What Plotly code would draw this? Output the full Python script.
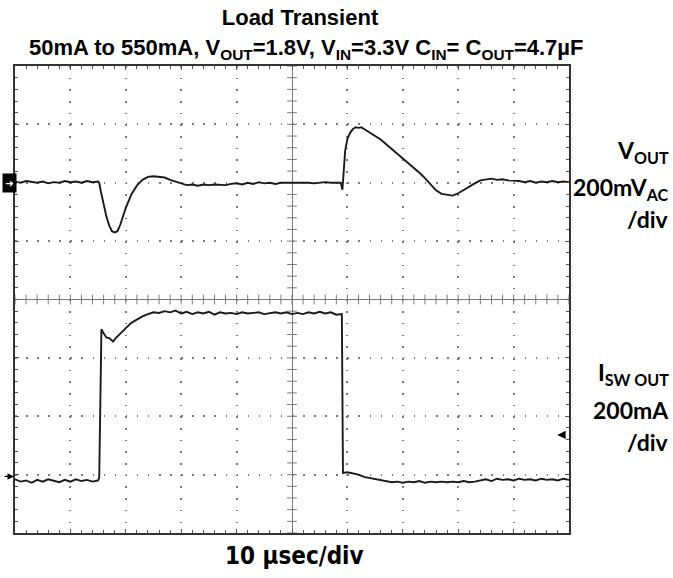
import numpy as np
import plotly.graph_objects as go

# ---------------- data (time in µs relative to screen centre, amplitude in divisions) ----------------
vout_t = [-50, -49, -48, -47, -46, -45, -44, -43, -42, -41, -40, -39, -38, -37, -36, -35,
          -34.8, -34.5, -34, -33.5, -33, -32.5, -32, -31.5, -31, -30.5, -30,
          -29, -28, -27, -26, -25, -24, -23, -22, -21, -20, -19, -18, -17, -16, -15, -14, -13, -12, -11,
          -10, -9, -8, -7, -6, -5, -4, -3, -2, -1, 0, 1, 2, 3, 4, 5, 6, 7, 8,
          8.8, 9.1, 9.3, 9.6, 10, 10.5, 11, 11.5, 12, 12.5, 13,
          14, 15, 16, 17, 18, 19, 20, 21, 22, 23, 24, 25, 26, 27, 28, 29, 30, 31, 32, 33, 34, 35,
          36, 37, 38, 39, 40, 41, 42, 43, 44, 45, 46, 47, 48, 49, 50]
vout_div = [2.02, 2.00, 2.03, 2.01, 2.00, 2.02, 1.99, 2.01, 2.00, 2.03, 2.01, 2.02, 2.00, 2.03, 2.01, 2.02,
            2.00, 1.85, 1.62, 1.42, 1.27, 1.17, 1.15, 1.17, 1.28, 1.42, 1.57,
            1.80, 1.95, 2.05, 2.10, 2.11, 2.10, 2.09, 2.05, 2.02, 1.98, 1.96, 1.97, 1.95, 1.97, 1.96, 1.97, 1.97, 1.96, 1.98,
            1.99, 1.97, 2.00, 1.98, 2.01, 1.99, 2.00, 1.98, 2.00, 2.00, 2.00, 2.00, 2.01, 2.00, 1.99, 2.00, 2.01, 2.00, 2.00,
            2.00, 1.88, 2.20, 2.55, 2.75, 2.86, 2.92, 2.95, 2.94, 2.95, 2.92,
            2.86, 2.80, 2.74, 2.66, 2.58, 2.50, 2.41, 2.33, 2.25, 2.17, 2.08, 1.98, 1.87, 1.81, 1.79, 1.78, 1.82, 1.88, 1.93, 1.99, 2.04, 2.05,
            2.07, 2.05, 2.06, 2.04, 2.04, 2.03, 2.01, 2.03, 2.00, 2.02, 2.01, 2.03, 2.01, 2.02, 2.01]

isw_t = [-50, -49, -48, -47, -46, -45, -44, -43, -42, -41, -40, -39, -38, -37, -36, -35,
         -34.8, -34.6, -34.4, -34, -33.5, -33, -32.3, -31.8, -31, -30,
         -29, -28, -27, -26, -25, -24, -23, -22, -21, -20, -19, -18, -17, -16, -15, -14, -13, -12, -11,
         -10, -9, -8, -7, -6, -5, -4, -3, -2, -1, 0, 1, 2, 3, 4, 5, 6, 7, 8, 9,
         9.1, 9.2, 10, 11, 12, 13, 14, 15, 16, 17, 18, 19, 20, 21, 22, 23, 24, 25, 26, 27, 28, 29, 30,
         31, 32, 33, 34, 35, 36, 37, 38, 39, 40, 41, 42, 43, 44, 45, 46, 47, 48, 49, 50]
isw_div = [-3.08, -3.12, -3.10, -3.14, -3.09, -3.12, -3.08, -3.11, -3.13, -3.09, -3.12, -3.08, -3.11, -3.09, -3.12, -3.10,
           -3.05, -1.80, -0.51, -0.58, -0.65, -0.66, -0.72, -0.66, -0.58, -0.49,
           -0.40, -0.34, -0.29, -0.25, -0.22, -0.23, -0.20, -0.22, -0.19, -0.24, -0.21, -0.25, -0.22, -0.24, -0.21, -0.26, -0.22, -0.24, -0.23,
           -0.25, -0.22, -0.24, -0.23, -0.22, -0.25, -0.23, -0.22, -0.24, -0.22, -0.25, -0.23, -0.25, -0.22, -0.24, -0.21, -0.24, -0.22, -0.26, -0.25,
           -1.60, -2.97, -2.96, -2.98, -3.00, -3.04, -3.06, -3.08, -3.10, -3.11, -3.13, -3.12, -3.14, -3.12, -3.13, -3.11, -3.14, -3.12, -3.13, -3.12, -3.13, -3.12, -3.13,
           -3.11, -3.13, -3.12, -3.10, -3.08, -3.11, -3.07, -3.09, -3.08, -3.10, -3.07, -3.09, -3.08, -3.10, -3.07, -3.09, -3.08, -3.10, -3.07, -3.09]

# channel reference markers (levels in divisions)
vout_ref_level = 2.0
isw_ref_level = -3.03
trigger_level = -2.32

x_range = [-50, 50]   # 10 µs/div, 10 divisions
y_range = [-4, 4]     # 8 divisions

W, H = 673, 578
L, R, T, B = 15, 104, 66, 45
PW, PH = W - L - R, H - T - B

def px(xp):
    return (xp - L) / PW

def py(yp):
    return (H - B - yp) / PH

TRACE = "#1a1a1a"
GRID = "#7a7a7a"

fig = go.Figure()

# centre graticule tick marks
cx = np.arange(x_range[0], x_range[1] + 0.01, 2)
cy = np.arange(y_range[0], y_range[1] + 0.01, 0.2)
fig.add_trace(go.Scatter(x=cx, y=np.zeros_like(cx), mode="markers", hoverinfo="skip",
                         marker=dict(symbol="line-ns", size=7, line=dict(width=1, color=GRID)),
                         showlegend=False))
fig.add_trace(go.Scatter(x=np.zeros_like(cy), y=cy, mode="markers", hoverinfo="skip",
                         marker=dict(symbol="line-ew", size=7, line=dict(width=1, color=GRID)),
                         showlegend=False))

fig.add_trace(go.Scatter(x=vout_t, y=vout_div, mode="lines", name="VOUT",
                         line=dict(color=TRACE, width=1.9), showlegend=False))
fig.add_trace(go.Scatter(x=isw_t, y=isw_div, mode="lines", name="ISW",
                         line=dict(color=TRACE, width=1.9), showlegend=False))

ann = []
# Vout channel marker (black box with arrow) left of screen
ann.append(dict(x=px(9), y=vout_ref_level, xref="paper", yref="y", xanchor="center", yanchor="middle",
                text="<b>➜</b>", showarrow=False, bgcolor="black", borderpad=1, width=11, height=16,
                font=dict(family="DejaVu Sans", size=10, color="white")))
# Isw channel marker
ann.append(dict(x=px(14), y=isw_ref_level, xref="paper", yref="y", ax=-11, ay=0, showarrow=True,
                arrowhead=2, arrowsize=1, arrowwidth=1.3, arrowcolor="black", text=""))
# trigger marker on right
ann.append(dict(x=47.9, y=trigger_level, xref="x", yref="y", ax=9, ay=0, showarrow=True,
                arrowhead=2, arrowsize=1.1, arrowwidth=1.5, arrowcolor="black", text=""))

# subtitle
ann.append(dict(x=px(305.5), y=py(49), xref="paper", yref="paper", xanchor="center", yanchor="middle",
                text="<b>50mA to 550mA, V<sub>OUT</sub>=1.8V, V<sub>IN</sub>=3.3V C<sub>IN</sub>= C<sub>OUT</sub>=4.7µF</b>",
                showarrow=False, font=dict(family="Liberation Sans, Arial, sans-serif", size=22, color="black")))

lab_font = dict(family="Lato, Open Sans, sans-serif", size=23, color="black")
for txt, yy in [("<b>V<sub>OUT</sub></b>", 152), ("<b>200mV<sub>AC</sub></b>", 188), ("<b>/div</b>", 219),
                ("<b>I<sub>SW OUT</sub></b>", 373), ("<b>200mA</b>", 410), ("<b>/div</b>", 442)]:
    ann.append(dict(x=px(671), y=py(yy), xref="paper", yref="paper", xanchor="right", yanchor="middle",
                    text=txt, showarrow=False, font=lab_font))

ann.append(dict(x=px(294), y=py(556), xref="paper", yref="paper", xanchor="center", yanchor="middle",
                text="<b>10 µsec/div</b>", showarrow=False,
                font=dict(family="DejaVu Sans Condensed, Liberation Sans Narrow, sans-serif", size=24, color="black")))

axis_common = dict(showticklabels=False, showline=True, linecolor="#333333", linewidth=1.5,
                   mirror="ticks", ticks="inside", ticklen=4, tickcolor="#555555", tickwidth=1,
                   zeroline=True, zerolinecolor=GRID, zerolinewidth=1, showgrid=True, gridcolor=GRID,
                   gridwidth=1.5, fixedrange=True)

fig.update_layout(
    width=W, height=H,
    margin=dict(l=L, r=R, t=T, b=B),
    paper_bgcolor="white", plot_bgcolor="white",
    title=dict(text="<b>Load Transient</b>", x=300 / W, xanchor="center", y=1 - 17 / H, yanchor="middle",
               font=dict(family="Liberation Sans, Arial, sans-serif", size=22, color="black")),
    xaxis=dict(range=x_range, dtick=10, tick0=0, griddash="1.5px,10.18px",
               minor=dict(dtick=2, ticks="inside", ticklen=3, tickcolor="#555555", showgrid=False),
               **axis_common),
    yaxis=dict(range=y_range, dtick=1, tick0=0, griddash="1.5px,9.58px",
               minor=dict(dtick=0.2, ticks="inside", ticklen=3, tickcolor="#555555", showgrid=False),
               **axis_common),
    annotations=ann,
    showlegend=False,
)

fig.write_html("out.html", config={"displayModeBar": False},
               post_script="document.body.style.margin='0';document.body.style.overflow='hidden';")
